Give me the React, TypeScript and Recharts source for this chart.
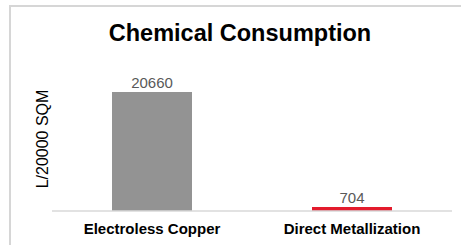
import React from "react";
import { BarChart, Bar, XAxis, YAxis, Cell, LabelList } from "recharts";

const categories = ["Electroless Copper", "Direct Metallization"];
const values = [20660, 704];
const colors = ["#939393", "#e31b2c"];
const title = "Chemical Consumption";
const yLabel = "L/20000 SQM";

const data = categories.map((name, i) => ({ name, value: values[i] }));

export default function App() {
  return (
    <div style={{ position: "absolute", left: 0, top: 0, width: 461, height: 245, background: "#fff", overflow: "hidden" }}>
      <div
        style={{
          position: "absolute",
          left: 9,
          top: 5,
          width: 500,
          height: 300,
          borderLeft: "2px solid #d6d6d6",
          borderTop: "2px solid #d6d6d6",
        }}
      />
      <div
        style={{
          position: "absolute",
          left: 0,
          width: 480,
          top: 18,
          textAlign: "center",
          fontFamily: "'Liberation Sans', Arial, sans-serif",
          fontWeight: "bold",
          fontSize: 23.5,
          lineHeight: "30px",
          color: "#000",
        }}
      >
        {title}
      </div>
      <div style={{ position: "absolute", left: 0, top: 0 }}>
        <BarChart
          width={461}
          height={245}
          data={data}
          margin={{ top: 67, right: 9, bottom: 4, left: 0 }}
          barCategoryGap="30%"
        >
          <XAxis
            dataKey="name"
            axisLine={{ stroke: "#d9d9d9", strokeWidth: 1.5 }}
            tickLine={false}
            tickMargin={6}
            height={30}
            tick={{ fill: "#000", fontSize: 15, fontWeight: "bold", fontFamily: "'Liberation Sans', Arial, sans-serif" }}
          />
          <YAxis
            width={52}
            domain={[0, 25000]}
            tick={false}
            axisLine={false}
            tickLine={false}
            label={{
              value: yLabel,
              angle: -90,
              position: "center",
              dx: 16,
              style: { fill: "#000", fontSize: 16, fontFamily: "'Liberation Sans', Arial, sans-serif" },
            }}
          />
          <Bar dataKey="value" isAnimationActive={false} barSize={80}>
            {data.map((d, i) => (
              <Cell key={d.name} fill={colors[i]} />
            ))}
            <LabelList
              dataKey="value"
              position="top"
              offset={4}
              style={{ fill: "#595959", fontSize: 15, fontFamily: "'Liberation Sans', Arial, sans-serif" }}
            />
          </Bar>
        </BarChart>
      </div>
    </div>
  );
}
